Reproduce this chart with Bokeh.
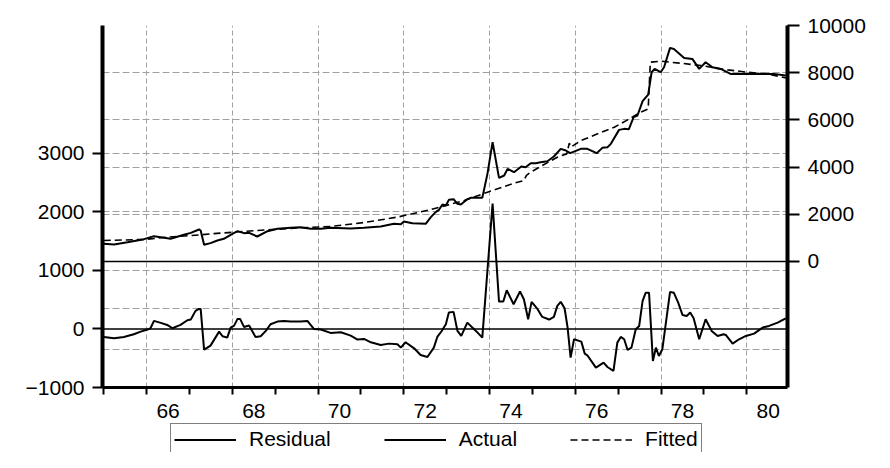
from bokeh.plotting import figure
from bokeh.models import Range1d, LinearAxis, FixedTicker, Grid, Span, Legend, LegendItem
from bokeh.layouts import column
from bokeh.embed import file_html
from bokeh.resources import INLINE

# ---- data ----
resid_t = [1965.00, 1965.24, 1965.47, 1965.70, 1965.86, 1966.02, 1966.09, 1966.17, 1966.33, 1966.48,
           1966.60, 1966.79, 1966.95, 1967.03, 1967.14, 1967.22, 1967.26, 1967.34, 1967.49, 1967.69,
           1967.77, 1967.88, 1967.96, 1968.04, 1968.12, 1968.18, 1968.27, 1968.39, 1968.54, 1968.66,
           1968.78, 1968.89, 1969.05, 1969.20, 1969.36, 1969.59, 1969.75, 1969.90, 1970.06, 1970.29,
           1970.53, 1970.76, 1970.92, 1971.07, 1971.23, 1971.46, 1971.65, 1971.85, 1971.93, 1972.04,
           1972.24, 1972.39, 1972.55, 1972.70, 1972.78, 1972.88, 1972.98, 1973.05, 1973.16, 1973.25,
           1973.34, 1973.48, 1973.64, 1973.72, 1973.83, 1974.07, 1974.22, 1974.32, 1974.40, 1974.56,
           1974.71, 1974.80, 1974.90, 1974.98, 1975.12, 1975.23, 1975.39, 1975.50, 1975.58, 1975.66,
           1975.75, 1975.82, 1975.89, 1975.97, 1976.14, 1976.22, 1976.28, 1976.48, 1976.66, 1976.75,
           1976.89, 1976.98, 1977.06, 1977.14, 1977.22, 1977.31, 1977.41, 1977.49, 1977.57, 1977.64,
           1977.72, 1977.81, 1977.88, 1977.95, 1978.03, 1978.21, 1978.30, 1978.40, 1978.50, 1978.60,
           1978.68, 1978.76, 1978.89, 1979.04, 1979.18, 1979.32, 1979.46, 1979.51, 1979.67, 1979.82,
           1979.98, 1980.17, 1980.37, 1980.52, 1980.72, 1980.91]
resid_v = [-137, -160, -137, -91, -46, -11, 11, 137, 103, 68,
           11, 68, 148, 160, 308, 342, 342, -353, -285, -46,
           -125, -148, 23, 57, 171, 171, 34, 57, -137, -125,
           -34, 80, 125, 137, 125, 125, 137, 0, -11, -68,
           -57, -114, -182, -171, -228, -274, -251, -262, -319, -228,
           -331, -445, -479, -319, -137, -40, 80, 279, 291, -34,
           -120, 108, -6, -63, -148, 2140, 467, 467, 661, 422,
           638, 507, 165, 462, 336, 205, 160, 205, 393, 462,
           353, 23, -490, -177, -217, -422, -450, -661, -576, -650,
           -718, -234, -137, -177, -359, -319, -6, 51, 479, 616,
           616, -547, -319, -462, -348, 633, 616, 450, 239, 222,
           279, 182, -177, 165, -34, -120, -91, -103, -251, -177,
           -120, -80, 23, 51, 108, 182]

actual_t = [1965.00, 1965.24, 1965.55, 1965.94, 1966.17, 1966.33, 1966.56, 1966.87, 1967.03, 1967.22,
            1967.26, 1967.34, 1967.49, 1967.65, 1967.80, 1968.00, 1968.12, 1968.27, 1968.39, 1968.58,
            1968.82, 1969.05, 1969.36, 1969.59, 1969.83, 1970.06, 1970.29, 1970.76, 1971.07, 1971.46,
            1971.77, 1971.93, 1972.00, 1972.20, 1972.51, 1972.63, 1972.74, 1972.82, 1972.90, 1972.98,
            1973.05, 1973.16, 1973.25, 1973.33, 1973.48, 1973.56, 1973.83, 1973.95, 1974.07, 1974.22,
            1974.34, 1974.42, 1974.57, 1974.74, 1974.84, 1974.96, 1975.08, 1975.19, 1975.35, 1975.50,
            1975.66, 1975.78, 1975.88, 1976.13, 1976.28, 1976.50, 1976.63, 1976.75, 1976.83, 1977.02,
            1977.14, 1977.25, 1977.36, 1977.45, 1977.57, 1977.70, 1977.78, 1977.85, 1977.99, 1978.07,
            1978.21, 1978.30, 1978.54, 1978.73, 1978.89, 1979.04, 1979.20, 1979.39, 1979.62, 1980.02,
            1980.63, 1980.91]
actual_v = [748, 720, 819, 946, 1073, 1031, 960, 1130, 1214, 1356,
            1313, 706, 777, 890, 960, 1172, 1285, 1200, 1214, 1059,
            1285, 1384, 1426, 1454, 1384, 1384, 1426, 1398, 1426, 1483,
            1596, 1580, 1694, 1624, 1596, 1878, 2090, 2189, 2415, 2372,
            2612, 2640, 2443, 2415, 2640, 2697, 2697, 3714, 5055, 3544,
            3643, 3925, 3784, 4024, 3996, 4165, 4165, 4208, 4250, 4448,
            4773, 4702, 4589, 4773, 4774, 4589, 4815, 4843, 4984, 5577,
            5620, 5606, 6114, 6185, 6792, 7074, 8020, 8161, 8020, 8232,
            9051, 9008, 8627, 8585, 8161, 8444, 8232, 8161, 7950, 7950,
            7950, 7879]

fitted_t = [1965.00, 1965.94, 1966.48, 1967.26, 1967.49, 1968.04, 1968.82, 1969.59, 1970.29, 1971.07,
            1971.85, 1972.63, 1973.41, 1973.95, 1974.34, 1974.65, 1974.80, 1974.86, 1974.96, 1975.19,
            1975.58, 1975.80, 1975.86, 1975.90, 1976.13, 1976.52, 1976.91, 1977.22, 1977.53, 1977.70,
            1977.75, 1978.00, 1978.46, 1978.93, 1979.55, 1980.02, 1980.48, 1980.91]
fitted_v = [890, 932, 1031, 1130, 1172, 1243, 1341, 1426, 1483, 1650,
            1880, 2200, 2584, 2937, 3177, 3361, 3431, 3650, 3785, 4025,
            4420, 4560, 5013, 4850, 5126, 5408, 5690, 6001, 6326, 6467,
            8444, 8486, 8401, 8302, 8119, 8020, 7950, 7780]

left_ticks = [-1000, 0, 1000, 2000, 3000]
right_ticks = [0, 2000, 4000, 6000, 8000, 10000]
year_ticks = list(range(1965, 1982))
label_years = [1966, 1968, 1970, 1972, 1974, 1976, 1978, 1980]
year_labels = ["66", "68", "70", "72", "74", "76", "78", "80"]
grid_years = [1966, 1968, 1970, 1972, 1974, 1976, 1978, 1980]
resid_se = 350
series_names = ["Residual", "Actual", "Fitted"]

FONT = "Liberation Sans"
GRID_COLOR = "#a0a0a0"
W = 874

p = figure(width=W, height=423, output_backend="svg", toolbar_location=None,
           x_range=Range1d(1964.97, 1980.95), y_range=Range1d(-1000, 5180),
           min_border_left=102, min_border_right=87, min_border_top=25, min_border_bottom=36)
p.extra_y_ranges = {"right": Range1d(-5340, 10000)}
p.outline_line_color = None
p.background_fill_color = "white"
p.border_fill_color = "white"
p.xgrid.visible = False
p.ygrid.visible = False

# x axis: year-boundary ticks, labels centred in even years
label_pos = [y + 0.5 for y in label_years]
xax = p.xaxis[0]
xax.ticker = FixedTicker(ticks=label_pos, minor_ticks=year_ticks)
xax.major_label_overrides = {pos: lab for pos, lab in zip(label_pos, year_labels)}
xax.major_tick_out = 0
xax.major_tick_in = 0
xax.minor_tick_out = 7
xax.minor_tick_in = 0
xax.minor_tick_line_width = 2
xax.minor_tick_line_color = "black"
xax.axis_line_width = 3
xax.axis_line_color = "black"
xax.major_label_standoff = 9
xax.major_label_text_font = FONT
xax.major_label_text_font_size = "21px"
xax.major_label_text_color = "black"

yax = p.yaxis[0]
yax.ticker = FixedTicker(ticks=left_ticks)
yax.minor_tick_out = 0
yax.minor_tick_in = 0
yax.major_tick_out = 10
yax.major_tick_in = 0
yax.major_tick_line_width = 2
yax.axis_line_width = 4
yax.axis_line_color = "black"
yax.major_label_standoff = 8
yax.major_label_text_font = FONT
yax.major_label_text_font_size = "21px"
yax.major_label_text_color = "black"

rax = LinearAxis(y_range_name="right", ticker=FixedTicker(ticks=right_ticks))
rax.minor_tick_out = 0
rax.minor_tick_in = 0
rax.major_tick_out = 12
rax.major_tick_in = 0
rax.major_tick_line_width = 2
rax.axis_line_width = 4
rax.axis_line_color = "black"
rax.major_label_standoff = 8
rax.major_label_text_font = FONT
rax.major_label_text_font_size = "21px"
rax.major_label_text_color = "black"
p.add_layout(rax, "right")

# grids
p.add_layout(Grid(dimension=0, ticker=FixedTicker(ticks=grid_years),
                  grid_line_color=GRID_COLOR, grid_line_dash="5 3", grid_line_width=1))
p.add_layout(Grid(dimension=1, ticker=FixedTicker(ticks=[-resid_se, resid_se] + left_ticks[2:]),
                  grid_line_color=GRID_COLOR, grid_line_dash="7 3", grid_line_width=1))
p.add_layout(Grid(dimension=1, y_range_name="right", ticker=FixedTicker(ticks=right_ticks[1:-1]),
                  grid_line_color=GRID_COLOR, grid_line_dash="7 3", grid_line_width=1))
p.add_layout(Span(location=0, dimension="width", line_color="black", line_width=1.5))
p.add_layout(Span(location=0, dimension="width", y_range_name="right",
                  line_color="black", line_width=1.5))

p.line(resid_t, resid_v, line_color="black", line_width=2)
p.line(actual_t, actual_v, y_range_name="right", line_color="black", line_width=2)
p.line(fitted_t, fitted_v, y_range_name="right", line_color="black",
       line_width=1.6, line_dash="7 4")

# ---- legend strip below the chart (its frame is aligned with the chart's frame) ----
lg = figure(width=W, height=29, output_backend="svg", toolbar_location=None,
            x_range=Range1d(0, 1), y_range=Range1d(0, 1),
            x_axis_type=None, y_axis_type=None, min_border=0)
lg.outline_line_color = None
lg.background_fill_color = "white"
lg.border_fill_color = "white"
# style-only proxies for the legend swatches (their point lies outside the strip's range)
proxy_x = [-1, -1]
proxy_y = [-1, -1]
l_res = lg.line(proxy_x, proxy_y, line_color="black", line_width=2)
l_act = lg.line(proxy_x, proxy_y, line_color="black", line_width=2)
l_fit = lg.line(proxy_x, proxy_y, line_color="black", line_width=1.6, line_dash="7 4")

legend = Legend(items=[LegendItem(label=series_names[0], renderers=[l_res]),
                       LegendItem(label=series_names[1], renderers=[l_act]),
                       LegendItem(label=series_names[2], renderers=[l_fit])],
                location=(68, -3.5), orientation="horizontal",
                glyph_width=62, glyph_height=25, label_height=25, label_standoff=13,
                spacing=53, padding=3, margin=0,
                label_text_font=FONT, label_text_font_size="21px", label_text_color="black",
                border_line_color="black", border_line_width=1.5,
                background_fill_color="white", background_fill_alpha=1.0)
lg.add_layout(legend, "center")

layout = column(p, lg, spacing=0)
open("out.html", "w").write(file_html(layout, INLINE))
